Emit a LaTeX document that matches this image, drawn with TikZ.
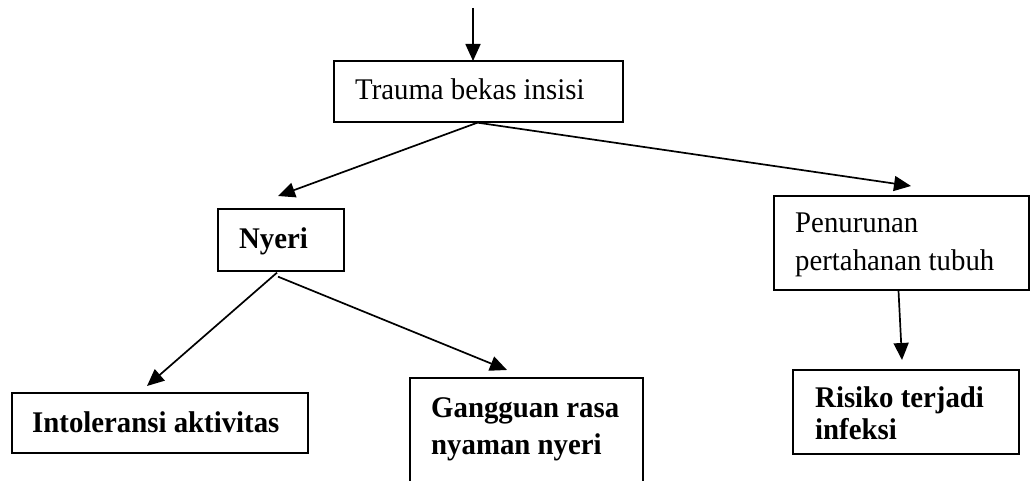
\documentclass[tikz,border=0pt]{standalone}
\usepackage{fontspec}
\setmainfont[FakeStretch=0.96]{Liberation Serif}
\usetikzlibrary{arrows.meta,calc}
\tikzset{
  box/.style={draw=black, line width=1.3pt, inner sep=0pt, fill=none},
  lbl/.style={anchor=base west, inner sep=0pt, font=\fontsize{30}{36}\selectfont},
  blbl/.style={lbl, font=\fontsize{30}{36}\selectfont\bfseries},
  arr/.style={draw=black, line width=1.7pt, -{Triangle[length=17pt,width=15pt]}},
  ln/.style={draw=black, line width=1.7pt}
}
\begin{document}
\begin{tikzpicture}[x=1pt,y=-1pt]
\useasboundingbox (0,0) rectangle (1030,481);
% boxes
\node[box, minimum width=289pt, minimum height=61pt] (trauma) at (478.5,91.5) {};
\node[box, minimum width=126pt, minimum height=62pt] (nyeri) at (281,240) {};
\node[box, minimum width=255pt, minimum height=94pt] (turun) at (901.5,243) {};
\node[box, minimum width=296pt, minimum height=60pt] (intol) at (160,423) {};
\node[box, minimum width=233pt, minimum height=104pt] (gang) at (526.5,430) {};
\node[box, minimum width=226pt, minimum height=84pt] (risiko) at (906,412) {};
% texts
\node[lbl] (traumat) at (355,100) {Trauma bekas insisi};
\node[blbl] (nyerit) at (239,248) {Nyeri};
\node[lbl] (turun1) at (795,232) {Penurunan};
\node[lbl] (turun2) at (795,270) {pertahanan tubuh};
\node[blbl] (intolt) at (32,432) {Intoleransi aktivitas};
\node[blbl] (gang1) at (431,417) {Gangguan rasa};
\node[blbl] (gang2) at (431,454) {nyaman nyeri};
\node[blbl] (risiko1) at (815,407) {Risiko terjadi};
\node[blbl] (risiko2) at (815,439) {infeksi};
% connector coordinates
\coordinate (topstart) at (473,8);
\coordinate (topend) at (473,61);
\coordinate (tipnyeri) at (278,196);
\coordinate (tipturun) at (911,186);
\coordinate (tipintol) at (147,386);
\coordinate (tipgang) at (507,370);
\coordinate (tiprisiko) at (902,360);
% connectors
\draw[arr] (topstart) -- (topend);
\draw[arr] ($(trauma.south)+(-1,0)$) -- (tipnyeri);
\draw[arr] ($(trauma.south)+(-1,0)$) -- (tipturun);
\draw[arr] ($(nyeri.south)+(-4,1)$) -- (tipintol);
\draw[arr] ($(nyeri.south)+(-3,5)$) -- (tipgang);
\draw[arr] ($(turun.south)+(-3,0)$) -- (tiprisiko);
\end{tikzpicture}
\end{document}
